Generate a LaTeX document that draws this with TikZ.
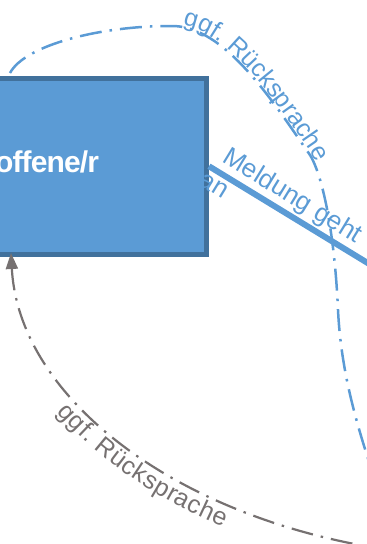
\documentclass[tikz,border=0pt]{standalone}
\usepackage{fontspec}
\setmainfont{Liberation Sans}
\usetikzlibrary{arrows.meta,decorations.text}
\definecolor{mblue}{HTML}{5B9BD5}
\definecolor{mdark}{HTML}{41719C}
\definecolor{mgray}{HTML}{767171}
\newcommand\lblfont{\fontsize{25}{30}\selectfont}
\newcommand\meldfont{\fontsize{26}{31}\selectfont}
\tikzset{
  boxstyle/.style={draw=mdark, fill=mblue, line width=5pt, rectangle, inner sep=0pt},
  bdash/.style={draw=mblue, line width=2.5pt, dash pattern=on 22pt off 8pt on 2.5pt off 8pt},
  gdash/.style={draw=mgray, line width=2.2pt, dash pattern=on 22pt off 8pt on 2.5pt off 8pt},
  thickcon/.style={draw=mblue, line width=6pt},
}
\begin{document}
\begin{tikzpicture}[x=1pt,y=-1pt]
\useasboundingbox (0,0) rectangle (367,544);
\clip (0,0) rectangle (367,544);
% box
\node[boxstyle, anchor=north east, minimum width=400pt, minimum height=176.5pt] (box) at (209,75.5) {};
\node[anchor=base west, font=\bfseries\fontsize{30}{35}\selectfont\addfontfeature{LetterSpace=-3}, text=white, inner sep=0pt] (boxtext) at (-5,172) {offene/r};
% thick connector
\coordinate (mend) at (430,301);
\draw[thickcon] (box.east) -- (mend) node[pos=0.335, sloped, above, inner sep=2pt, font=\meldfont, text=mblue] (meld) {Meldung geht};
\node[font=\meldfont, text=mblue, rotate=-31.5, inner sep=0pt] (an) at (213.8,185.7) {an};
% blue dash-dot curve
\coordinate (bstart) at (10,73);
\coordinate (btop) at (170,26);
\coordinate (bmid) at (310,155);
\coordinate (bmid2) at (338,310);
\coordinate (bend) at (375,480);
\draw[bdash] (bstart) .. controls (25,45) and (100,26) .. (btop)
  .. controls (225,24) and (275,105) .. (bmid)
  .. controls (324,178) and (335,240) .. (bmid2)
  .. controls (341,370) and (355,420) .. (bend);
\path[decorate, decoration={text along path, text={|\lblfont|ggf. Rücksprache}, text color=mblue, text align={left indent=12pt}, raise=2pt}]
  (btop) .. controls (225,24) and (275,105) .. (bmid)
  .. controls (324,178) and (335,240) .. (bmid2);
% gray dash-dot curve with arrow
\coordinate (gtip) at (11,253);
\coordinate (gend) at (390,550);
\draw[gdash, {Triangle[length=16pt,width=12pt]}-] (gtip) .. controls (19,400) and (180,520) .. (gend);
\path[decorate, decoration={text along path, text={|\lblfont|ggf. Rücksprache}, text color=mgray, text align={left indent=160pt}, raise=-22pt}]
  (gtip) .. controls (19,400) and (180,520) .. (gend);
\end{tikzpicture}
\end{document}
